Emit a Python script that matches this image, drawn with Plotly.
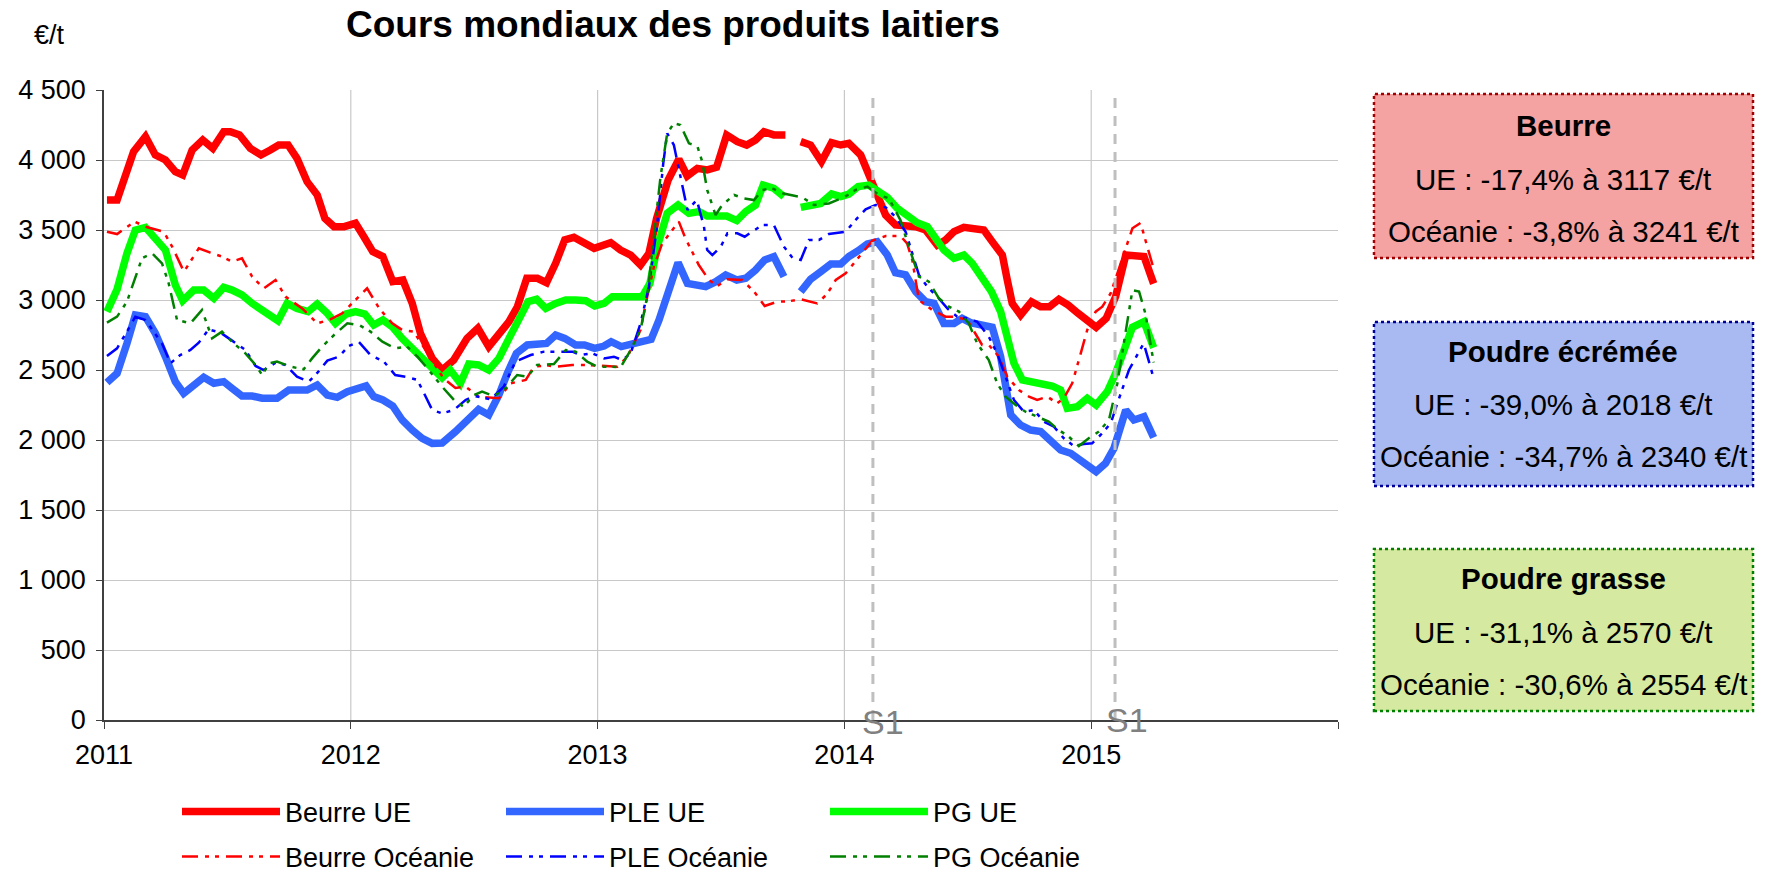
import plotly.graph_objects as go

FONT = "Liberation Sans, Arial, sans-serif"
START_YEAR = 2011

# ---------------- data (time offsets in years from 2011, values in EUR/t) ----------------
beurre_ue_t = [0.012, 0.053, 0.12, 0.168, 0.208, 0.249, 0.289, 0.319, 0.357, 0.4, 0.441, 0.485, 0.512, 0.549,
               0.593, 0.636, 0.674, 0.708, 0.746, 0.782, 0.823, 0.864, 0.895, 0.932, 0.973, 1.019, 1.053, 1.089,
               1.13, 1.17, 1.211, 1.249, 1.282, 1.33, 1.37, 1.417, 1.471, 1.515, 1.559, 1.6, 1.641, 1.675, 1.713,
               1.756, 1.793, 1.83, 1.867, 1.904, 1.945, 1.986, 2.053, 2.093, 2.134, 2.174, 2.208, 2.239, 2.286,
               2.329, 2.363, 2.404, 2.444, 2.482, 2.523, 2.566, 2.604, 2.64, 2.674, 2.714, 2.761, 2.79, 2.823,
               2.863, 2.907, 2.948, 2.985, 3.018, 3.066, 3.093, 3.124, 3.167, 3.207, 3.248, 3.289, 3.329, 3.376,
               3.41, 3.444, 3.484, 3.525, 3.565, 3.599, 3.64, 3.66, 3.68, 3.714, 3.758, 3.795, 3.831, 3.869,
               3.907, 3.947, 3.984, 4.02, 4.061, 4.099, 4.14, 4.18, 4.214, 4.253]
beurre_ue = [3714, 3714, 4060, 4167, 4036, 4000, 3917, 3893, 4071, 4143, 4083, 4202, 4202, 4179,
             4083, 4036, 4071, 4107, 4107, 4012, 3845, 3750, 3583, 3524, 3524, 3548, 3452, 3345,
             3310, 3131, 3143, 2976, 2762, 2583, 2500, 2571, 2726, 2798, 2667, 2750, 2845, 2952, 3155,
             3155, 3124, 3262, 3429, 3448, 3410, 3369, 3410, 3357, 3321, 3250, 3333, 3583, 3857,
             4005, 3886, 3940, 3929, 3948, 4179, 4131, 4107, 4143, 4202, 4179, 4179, None, 4131,
             4107, 3988, 4124, 4107, 4119, 4036, 3917, 3762, 3607, 3536, 3536, 3524, 3500, 3393,
             3429, 3488, 3519, 3505, 3500, 3417, 3321, 3143, 2976, 2893, 2988, 2952, 2952, 3005,
             2964, 2905, 2857, 2805, 2869, 3024, 3321, 3310, 3310, 3117]

ple_ue_t = [0.012, 0.053, 0.093, 0.127, 0.168, 0.208, 0.249, 0.289, 0.323, 0.364, 0.404, 0.445, 0.485, 0.519,
            0.559, 0.6, 0.641, 0.701, 0.749, 0.823, 0.864, 0.905, 0.945, 0.986, 1.027, 1.062, 1.093, 1.13,
            1.17, 1.208, 1.249, 1.289, 1.33, 1.37, 1.424, 1.478, 1.518, 1.559, 1.6, 1.634, 1.671, 1.715,
            1.755, 1.793, 1.83, 1.867, 1.911, 1.947, 1.988, 2.026, 2.055, 2.096, 2.141, 2.181, 2.217, 2.249,
            2.29, 2.326, 2.364, 2.402, 2.438, 2.479, 2.519, 2.564, 2.6, 2.64, 2.677, 2.714, 2.755, 2.79,
            2.823, 2.863, 2.904, 2.945, 2.985, 3.018, 3.056, 3.093, 3.133, 3.174, 3.207, 3.248, 3.289,
            3.329, 3.363, 3.403, 3.444, 3.477, 3.511, 3.558, 3.599, 3.633, 3.66, 3.674, 3.714, 3.755,
            3.795, 3.836, 3.876, 3.917, 3.957, 3.984, 4.02, 4.058, 4.092, 4.14, 4.173, 4.214, 4.253]
ple_ue = [2410, 2476, 2690, 2893, 2881, 2762, 2595, 2417, 2333, 2393, 2448, 2405, 2417, 2369,
          2314, 2314, 2298, 2298, 2357, 2357, 2393, 2321, 2305, 2345, 2369, 2386, 2310, 2286,
          2243, 2143, 2071, 2012, 1976, 1978, 2060, 2155, 2219, 2179, 2321, 2476, 2619, 2679,
          2690, 2690, 2750, 2726, 2679, 2679, 2655, 2671, 2702, 2667, 2686, 2702, 2719, 2857,
          3095, 3267, 3119, 3100, 3095, 3131, 3179, 3143, 3155, 3214, 3286, 3310, 3167, None,
          3060, 3148, 3202, 3257, 3257, 3310, 3352, 3400, 3417, 3321, 3195, 3179, 3060,
          2988, 2976, 2833, 2833, 2869, 2838, 2821, 2805, 2595, 2357, 2179, 2107, 2071,
          2060, 2000, 1929, 1905, 1857, 1833, 1774, 1833, 1940, 2214, 2143, 2167, 2018]

pg_ue_t = [0.012, 0.053, 0.093, 0.127, 0.168, 0.208, 0.249, 0.289, 0.319, 0.364, 0.404, 0.445, 0.485, 0.519,
           0.559, 0.6, 0.641, 0.674, 0.705, 0.742, 0.782, 0.827, 0.864, 0.905, 0.938, 0.981, 1.019, 1.057,
           1.093, 1.13, 1.17, 1.208, 1.249, 1.296, 1.33, 1.37, 1.403, 1.444, 1.478, 1.518, 1.559, 1.6,
           1.641, 1.681, 1.718, 1.753, 1.79, 1.83, 1.871, 1.911, 1.952, 1.988, 2.026, 2.06, 2.1, 2.141,
           2.181, 2.212, 2.242, 2.282, 2.326, 2.37, 2.411, 2.444, 2.485, 2.523, 2.564, 2.6, 2.64, 2.671,
           2.714, 2.755, 2.79, 2.823, 2.863, 2.904, 2.948, 2.985, 3.018, 3.056, 3.099, 3.133, 3.174,
           3.214, 3.255, 3.295, 3.336, 3.369, 3.403, 3.444, 3.484, 3.518, 3.558, 3.596, 3.633, 3.66,
           3.687, 3.721, 3.761, 3.802, 3.842, 3.876, 3.903, 3.944, 3.984, 4.02, 4.065, 4.099, 4.133,
           4.167, 4.214, 4.253]
pg_ue = [2917, 3076, 3333, 3500, 3519, 3440, 3357, 3107, 2995, 3071, 3071, 3012, 3090, 3071,
         3036, 2976, 2929, 2893, 2852, 2976, 2940, 2917, 2971, 2905, 2833, 2900, 2917, 2900,
         2821, 2857, 2805, 2726, 2655, 2560, 2500, 2445, 2500, 2405, 2543, 2536, 2500, 2583,
         2726, 2857, 2988, 3005, 2940, 2976, 3000, 3000, 2995, 2957, 2976, 3024, 3024, 3024,
         3024, 3119, 3381, 3619, 3679, 3619, 3631, 3600, 3600, 3600, 3567, 3631, 3679, 3821,
         3798, 3738, None, 3662, 3679, 3690, 3757, 3738, 3757, 3810, 3821, 3774, 3733,
         3655, 3595, 3552, 3524, 3440, 3357, 3298, 3321, 3262, 3167, 3060, 2917, 2738,
         2548, 2429, 2417, 2410, 2386, 2357, 2226, 2238, 2298, 2250, 2345, 2476, 2643,
         2805, 2845, 2660]

beurre_oc_t = [0.012, 0.053, 0.124, 0.168, 0.242, 0.276, 0.324, 0.384, 0.431, 0.478, 0.519, 0.559, 0.6, 0.647,
               0.695, 0.735, 0.803, 0.864, 0.911, 0.965, 1.066, 1.115, 1.168, 1.208, 1.255, 1.31, 1.376, 1.424,
               1.465, 1.518, 1.6, 1.648, 1.709, 1.742, 1.797, 1.83, 1.897, 1.958, 2.012, 2.08, 2.121, 2.174,
               2.201, 2.228, 2.262, 2.296, 2.329, 2.356, 2.379, 2.41, 2.451, 2.485, 2.525, 2.586, 2.634, 2.677,
               2.728, 2.77, 2.823, 2.89, 2.93, 2.965, 3.005, 3.072, 3.113, 3.167, 3.227, 3.254, 3.275, 3.302,
               3.356, 3.41, 3.45, 3.498, 3.558, 3.585, 3.626, 3.66, 3.707, 3.748, 3.781, 3.822, 3.862, 3.889,
               3.923, 3.95, 3.984, 4.018, 4.045, 4.079, 4.119, 4.167, 4.2, 4.25]
beurre_oc = [3488, 3471, 3560, 3524, 3488, 3381, 3202, 3369, 3338, 3310, 3274, 3298, 3167, 3083,
             3143, 3024, 2940, 2833, 2857, 2905, 3083, 2940, 2833, 2786, 2774, 2620, 2440, 2371,
             2381, 2310, 2298, 2405, 2429, 2524, 2533, 2524, 2536, 2536, 2529, 2524, 2595, 2786,
             3024, 3238, 3405, 3488, 3560, 3440, 3357, 3250, 3143, 3100, 3148, 3143, 3060, 2957,
             2988, 2990, 3005, 2976, 3043, 3143, 3190, 3333, 3424, 3457, 3457, 3405, 3286, 3000,
             2929, 2881, 2881, 2857, 2679, 2679, 2595, 2452, 2357, 2310, 2286, 2310, 2262, 2298,
             2405, 2571, 2786, 2917, 2952, 3048, 3262, 3512, 3550, 3241]

ple_oc_t = [0.012, 0.053, 0.093, 0.127, 0.168, 0.235, 0.269, 0.309, 0.35, 0.384, 0.424, 0.472, 0.519, 0.573,
            0.614, 0.647, 0.695, 0.735, 0.782, 0.83, 0.865, 0.905, 0.951, 0.992, 1.032, 1.08, 1.134, 1.18,
            1.222, 1.27, 1.33, 1.37, 1.417, 1.465, 1.503, 1.566, 1.62, 1.667, 1.729, 1.783, 1.837, 1.898,
            1.931, 1.978, 2.026, 2.066, 2.1, 2.134, 2.174, 2.208, 2.242, 2.266, 2.282, 2.309, 2.364, 2.402,
            2.431, 2.444, 2.465, 2.499, 2.526, 2.566, 2.596, 2.634, 2.667, 2.714, 2.755, 2.79, 2.823, 2.856,
            2.897, 2.937, 3.005, 3.045, 3.086, 3.126, 3.167, 3.207, 3.248, 3.302, 3.336, 3.376, 3.417, 3.457,
            3.498, 3.538, 3.585, 3.619, 3.653, 3.687, 3.727, 3.768, 3.808, 3.849, 3.889, 3.93, 3.97, 4.004,
            4.038, 4.079, 4.113, 4.153, 4.194, 4.213, 4.25]
ple_oc = [2600, 2655, 2774, 2881, 2857, 2690, 2548, 2607, 2643, 2695, 2790, 2767, 2710, 2643,
          2529, 2500, 2552, 2536, 2452, 2417, 2481, 2567, 2595, 2671, 2702, 2607, 2560, 2464,
          2452, 2429, 2214, 2190, 2214, 2286, 2314, 2290, 2381, 2560, 2607, 2631, 2631, 2631,
          2607, 2619, 2583, 2595, 2571, 2619, 2833, 3095, 3548, 3976, 4190, 4107, 3643, 3714,
          3524, 3357, 3321, 3381, 3476, 3476, 3452, 3500, 3536, 3536, 3381, 3300, 3286, 3429,
          3429, 3471, 3488, 3571, 3648, 3679, 3662, 3595, 3488, 3179, 3095, 3024, 2940, 2881,
          2869, 2845, 2738, 2619, 2452, 2286, 2202, 2214, 2131, 2095, 2012, 1957, 1971, 1976,
          2036, 2119, 2298, 2500, 2631, 2690, 2460]

pg_oc_t = [0.012, 0.053, 0.093, 0.154, 0.195, 0.235, 0.262, 0.296, 0.35, 0.397, 0.438, 0.478, 0.526, 0.573,
           0.614, 0.641, 0.668, 0.701, 0.755, 0.809, 0.843, 0.884, 0.932, 0.986, 1.034, 1.08, 1.128, 1.18,
           1.228, 1.27, 1.31, 1.37, 1.424, 1.458, 1.498, 1.532, 1.58, 1.627, 1.674, 1.715, 1.755, 1.823,
           1.871, 1.911, 1.958, 1.999, 2.046, 2.093, 2.134, 2.174, 2.201, 2.228, 2.255, 2.282, 2.309, 2.336,
           2.37, 2.404, 2.424, 2.444, 2.478, 2.505, 2.553, 2.593, 2.634, 2.667, 2.708, 2.749, 2.829, 2.877,
           2.937, 2.998, 3.045, 3.093, 3.14, 3.18, 3.227, 3.261, 3.302, 3.342, 3.383, 3.423, 3.464, 3.504,
           3.538, 3.585, 3.619, 3.653, 3.694, 3.734, 3.781, 3.828, 3.869, 3.909, 3.95, 3.99, 4.031, 4.072,
           4.106, 4.133, 4.167, 4.194, 4.22, 4.253]
pg_oc = [2838, 2881, 2988, 3298, 3333, 3262, 3119, 2857, 2833, 2929, 2726, 2774, 2690, 2619,
         2536, 2464, 2548, 2560, 2524, 2505, 2583, 2667, 2750, 2833, 2821, 2774, 2702, 2655,
         2667, 2595, 2512, 2381, 2274, 2238, 2321, 2345, 2314, 2369, 2464, 2452, 2536, 2543,
         2643, 2631, 2560, 2524, 2524, 2519, 2643, 2786, 3024, 3452, 3881, 4190, 4262, 4250,
         4119, 4100, 3988, 3786, 3607, 3679, 3750, 3726, 3714, 3786, 3798, 3762, 3733, 3679,
         3690, 3733, 3786, 3810, 3750, 3726, 3571, 3381, 3167, 3131, 3012, 2952, 2917, 2833,
         2690, 2571, 2405, 2310, 2250, 2202, 2167, 2131, 2071, 2024, 1957, 2012, 2060, 2143,
         2405, 2690, 3071, 3060, 2900, 2554]

series_names = ["Beurre UE", "PLE UE", "PG UE", "Beurre Océanie", "PLE Océanie", "PG Océanie"]

year_ticks = [2011, 2012, 2013, 2014, 2015, 2016]
year_labels = ["2011", "2012", "2013", "2014", "2015", ""]
y_ticks = [0, 500, 1000, 1500, 2000, 2500, 3000, 3500, 4000, 4500]
y_labels = ["0", "500", "1 000", "1 500", "2 000", "2 500", "3 000", "3 500", "4 000", "4 500"]

s1_lines = [2014.1155, 2015.0965]
s1_labels = [2014.155, 2015.144]

box_titles = ["Beurre", "Poudre écrémée", "Poudre grasse"]
box_ue = ["UE : -17,4% à 3117 €/t", "UE : -39,0% à 2018 €/t", "UE : -31,1% à 2570 €/t"]
box_oc = ["Océanie : -3,8% à 3241 €/t", "Océanie : -34,7% à 2340 €/t", "Océanie : -30,6% à 2554 €/t"]

# ---------------- layout geometry (pixels) ----------------
W, H = 1765, 872
PL, PR, PT, PB = 104, 1338, 90, 720


def px(x):
    return (x - PL) / (PR - PL)


def py(y):
    return (PB - y) / (PB - PT)


def yrs(ts):
    return [START_YEAR + t for t in ts]


fig = go.Figure()

DASH_OC = "16px,7px,4px,6px,4px,7px"
specs = [
    (beurre_ue_t, beurre_ue, "#FF0000", 7.5, "solid", "legend"),
    (ple_ue_t, ple_ue, "#3366FF", 7.5, "solid", "legend"),
    (pg_ue_t, pg_ue, "#00FF00", 7.5, "solid", "legend"),
    (beurre_oc_t, beurre_oc, "#FF0000", 2.5, DASH_OC, "legend2"),
    (ple_oc_t, ple_oc, "#0000FF", 2.5, DASH_OC, "legend2"),
    (pg_oc_t, pg_oc, "#008000", 2.5, DASH_OC, "legend2"),
]
for (ts, vals, col, wd, dash, leg), name in zip(specs, series_names):
    fig.add_trace(go.Scatter(
        x=yrs(ts), y=vals, mode="lines", name=name, legend=leg,
        line=dict(color=col, width=wd, dash=dash), connectgaps=False,
        hoverinfo="skip"))

shapes = []
# vertical year gridlines
for yr in year_ticks[1:-1]:
    shapes.append(dict(type="line", xref="x", yref="y", x0=yr, x1=yr, y0=0, y1=4500,
                       line=dict(color="#C8C8C8", width=1.2), layer="below"))
# S1 dashed markers
for xv in s1_lines:
    shapes.append(dict(type="line", xref="x", yref="y", x0=xv, x1=xv, y0=0, y1=4500,
                       line=dict(color="#BFBFBF", width=3, dash="10px,8px"), layer="above"))

# boxes on the right
boxes = [
    (94, 258, "#F4A2A2", "#A00000"),
    (322, 486, "#A9BAF2", "#000099"),
    (549, 711, "#D5EAA0", "#008000"),
]
for (top, bot, fill, border) in boxes:
    shapes.append(dict(type="rect", xref="paper", yref="paper",
                       x0=px(1374), x1=px(1753), y0=py(bot), y1=py(top),
                       fillcolor=fill, line=dict(color=border, width=2.5, dash="dot"), layer="above"))

annotations = []
annotations.append(dict(text="<b>Cours mondiaux des produits laitiers</b>", xref="paper", yref="paper",
                        x=px(673), y=py(25), xanchor="center", yanchor="middle", showarrow=False,
                        font=dict(family=FONT, size=37, color="black")))
annotations.append(dict(text="€/t", xref="paper", yref="paper", x=px(50), y=py(35),
                        xanchor="center", yanchor="middle", showarrow=False,
                        font=dict(family=FONT, size=27, color="black")))
for xv, ypx in zip(s1_labels, [722, 720]):
    annotations.append(dict(text="S1", xref="x", yref="paper", x=xv, y=py(ypx),
                            xanchor="center", yanchor="middle", showarrow=False,
                            font=dict(family=FONT, size=34, color="#808080")))

line_ys = [(125, 179, 231), (351, 404, 457), (578, 632, 684)]
for i, (yt, yu, yo) in enumerate(line_ys):
    for txt, yy, bold in [(box_titles[i], yt, True), (box_ue[i], yu, False), (box_oc[i], yo, False)]:
        annotations.append(dict(text=("<b>%s</b>" % txt) if bold else txt, xref="paper", yref="paper",
                                x=px(1563), y=py(yy), xanchor="center", yanchor="middle", showarrow=False,
                                font=dict(family=FONT, size=29.5, color="black")))

leg_common = dict(orientation="h", xanchor="left", yanchor="middle", bgcolor="rgba(0,0,0,0)",
                  xref="container", yref="container",
                  font=dict(family=FONT, size=27, color="black"), itemwidth=98,
                  entrywidth=211, entrywidthmode="pixels", traceorder="normal")

fig.update_layout(
    width=W, height=H, autosize=False,
    margin=dict(l=PL, r=W - PR, t=PT, b=H - PB, pad=0, autoexpand=False),
    paper_bgcolor="white", plot_bgcolor="white",
    font=dict(family=FONT, size=27, color="black"),
    showlegend=True,
    legend=dict(x=177 / W, y=1 - 812 / H, **leg_common),
    legend2=dict(x=177 / W, y=1 - 857 / H, **leg_common),
    xaxis=dict(range=[2011, 2016], tickvals=year_ticks, ticktext=year_labels, showgrid=False,
               zeroline=False, showline=True, linecolor="#404040", linewidth=1.5,
               ticks="outside", ticklen=7, tickcolor="#404040", tickwidth=1.2,
               tickfont=dict(family=FONT, size=27, color="black"), ticklabelstandoff=3,
               automargin=False, fixedrange=True),
    yaxis=dict(range=[0, 4500], tickvals=y_ticks, ticktext=y_labels, showgrid=True,
               gridcolor="#C8C8C8", gridwidth=1.2, zeroline=False, showline=True,
               linecolor="#404040", linewidth=1.5, ticks="outside", ticklen=6,
               tickcolor="#404040", tickwidth=1.2, ticklabelstandoff=5,
               tickfont=dict(family=FONT, size=27, color="black"), automargin=False, fixedrange=True),
    shapes=shapes,
    annotations=annotations,
)

fig.write_html("out.html", config={"displayModeBar": False},
               post_script="document.body.style.margin='0px';document.body.style.overflow='hidden';")
